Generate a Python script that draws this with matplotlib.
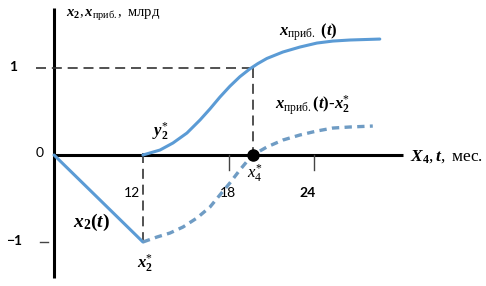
import matplotlib
matplotlib.use('Agg')
import matplotlib.pyplot as plt

plt.rcParams['mathtext.fontset'] = 'custom'
plt.rcParams['mathtext.rm'] = 'Liberation Serif'
plt.rcParams['mathtext.it'] = 'Liberation Serif:italic'
plt.rcParams['mathtext.bf'] = 'Liberation Serif:bold'
plt.rcParams['mathtext.bfit'] = 'Liberation Serif:italic:bold'

# ---- данные (схема) ----
t0 = 5.78          # положение оси ординат (начало, t = 0 на схеме)
t_x2 = [t0, 12]
x2 = [0, -1]

t_pr = [12, 13.19, 14.10, 15.08, 15.99, 16.69, 17.38, 18.08, 18.78, 19.48, 20.03,
        20.67, 21.79, 22.98, 24.17, 25.29, 26.48, 28.57]
x_pr = [0, 0.057, 0.138, 0.253, 0.402, 0.530, 0.665, 0.790, 0.900, 0.99, 1.050,
        1.110, 1.184, 1.241, 1.287, 1.31, 1.322, 1.333]

t_diff = [12, 12.98, 13.89, 14.80, 15.78, 16.69, 17.38, 18.08, 18.78, 19.48, 19.69,
          20.67, 21.79, 22.98, 24.17, 25.29, 26.48, 28.08]
x_diff = [-1.0, -0.943, -0.897, -0.828, -0.724, -0.598, -0.460, -0.322, -0.172, -0.034, 0,
          0.092, 0.172, 0.230, 0.276, 0.310, 0.322, 0.333]

t_x4 = 19.7
x_ticks = [12, 18, 24]
x_tick_labels = ['12', '18', '24']

fig = plt.figure(figsize=(4.86, 2.86), dpi=100)
ax = fig.add_axes([0, 0, 1, 1])
ax.set_xlim(2.0, 36.0)
ax.set_ylim(-1.506, 1.782)
ax.axis('off')

# оси
ax.plot([t0, t0], [1.69, -1.41], color='black', lw=2.2, solid_capstyle='butt')
ax.plot([t0, 30.2], [0, 0], color='black', lw=2.2, solid_capstyle='butt')

# засечки
for t in x_ticks[1:]:
    ax.plot([t, t], [0, -0.17], color='#444444', lw=1)
ax.plot([t0 - 1.0, t0 - 0.45], [-1, -1], color='#444444', lw=1)

# пунктиры
dash = dict(color='#333333', lw=1.2, dashes=(6, 3.5))
ax.plot([t0 - 1.25, t_x4], [1, 1], **dash)
ax.plot([t_x4, t_x4], [1, 0], **dash)
ax.plot([12, 12], [0.02, -1], **dash)

# кривые
ax.plot(t_x2, x2, color='#5b9bd5', lw=2.2, solid_capstyle='round')
ax.plot(t_pr, x_pr, color='#5b9bd5', lw=2.2, solid_capstyle='round', solid_joinstyle='round')
ax.plot(t_diff, x_diff, color='#6f9cc4', lw=2.4, dashes=(2.2, 1.6))
ax.plot([t_x4], [0], 'o', color='black', markersize=8)

# подписи
sans = 'Lato'
fs = 12
ax.text(6.62, 1.61, r'$\mathbfit{x}_\mathbf{2}, \mathbfit{x}_{\mathrm{приб.}},$ млрд',
        family='Liberation Serif', fontsize=10.5, ha='left', va='center')
ax.text(2.91, 1.01, '1', family=sans, fontweight='bold', fontsize=10, ha='center', va='center')
ax.text(4.8, 0.02, '0', family=sans, fontsize=10, ha='center', va='center')
ax.text(2.98, -0.99, '−1', family=sans, fontweight='bold', fontsize=10, ha='center', va='center')
ax.text(11.23, -0.44, x_tick_labels[0], family=sans, fontsize=10, ha='center', va='center')
ax.text(17.94, -0.44, x_tick_labels[1], family=sans, fontsize=10, ha='center', va='center')
ax.text(23.54, -0.44, x_tick_labels[2], family=sans, fontweight='bold', fontsize=10,
        ha='center', va='center')

ax.text(13.19, 0.27, r'$\mathbfit{y}^{*}_{\mathbf{2}}$', fontsize=fs, ha='center', va='center')
ax.text(21.5, 1.41, r'$\mathbfit{x}_{\mathrm{приб.}}\ \mathbf{(}\mathbfit{t}\mathbf{)}$',
        fontsize=fs, ha='left', va='center')
ax.text(21.23, 0.575,
        r'$\mathbfit{x}_{\mathrm{приб.}}\mathbf{(}\mathbfit{t}\mathbf{)}$-$\mathbfit{x}^{*}_{\mathbf{2}}$',
        family='Liberation Serif', fontweight='bold', fontsize=fs, ha='left', va='center')
ax.text(30.67, -0.02, r'$\mathbfit{X}_\mathbf{4}, \mathbfit{t},$ мес.',
        family='Liberation Serif', fontsize=12.5, ha='left', va='center')
ax.text(8.43, -0.77, r'$\mathbfit{x}_\mathbf{2}\mathbf{(}\mathbfit{t}\mathbf{)}$',
        fontsize=14, ha='center', va='center')
ax.text(12.14, -1.25, r'$\mathbfit{x}^{*}_{\mathbf{2}}$', fontsize=fs, ha='center', va='center')
ax.text(19.83, -0.22, r'$\mathit{x}^{*}_{\mathrm{4}}$', fontsize=fs, ha='center', va='center')

fig.savefig('out.png', dpi=100)
